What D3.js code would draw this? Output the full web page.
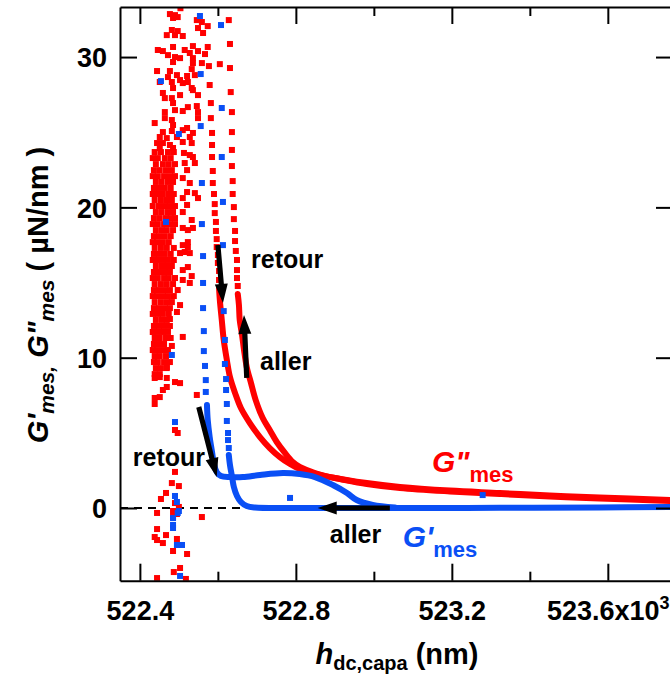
<!DOCTYPE html>
<html><head><meta charset="utf-8">
<script src="https://cdn.jsdelivr.net/npm/d3@7"></script>
<style>
body{margin:0;background:#fff;}
text{font-family:"Liberation Sans",Arial,sans-serif;font-weight:bold;}
</style></head>
<body><svg id="c" width="670" height="679"></svg>
<script>
// ---------- axes data ----------
const xTicksMajor = [522400, 522800, 523200, 523600];
const xTicksMinor = [522600, 523000, 523400];
const xTickLabels = ["522.4", "522.8", "523.2", "523.6x10"];
const yTicks = [0, 10, 20, 30];
const yTickLabels = ["0", "10", "20", "30"];

// ---------- G'' (red) ----------
const redRetourDots = [[522574,32.06],[522574,30.67],[522577,29.4],[522579,28.14],[522582,26.94],[522582,25.94],[522585,24.95],[522585,24.15],[522585,23.35],[522587,22.42],[522587,21.62],[522590,20.89],[522592,20.22],[522592,19.62],[522595,19.03],[522595,18.43],[522597,17.89],[522597,17.36],[522600,16.83],[522600,16.3],[522603,15.77],[522603,15.17]];
const redRetourLine = [[522603,14.63],[522605,13.84],[522610,12.51],[522615,11.18],[522623,9.85],[522631,8.71],[522644,7.65],[522659,6.65],[522682,5.65],[522708,4.72],[522733,3.99],[522759,3.39],[522785,2.93],[522810,2.59],[522862,2.2],[522913,1.93],[522982,1.6],[523067,1.33],[523195,1.1],[523323,0.93],[523451,0.77],[523579,0.63],[523759,0.47]];
const redAllerDots = [[522628,32.46],[522631,30.87],[522631,29.27],[522633,27.67],[522636,26.34],[522636,25.01],[522636,23.82],[522636,22.75],[522638,21.75],[522638,20.89],[522641,20.02],[522641,19.22],[522644,18.43],[522644,17.76],[522646,17.1],[522649,16.5],[522649,15.83],[522649,15.3],[522651,14.77]];
const redAllerLine = [[522651,14.24],[522654,13.5],[522656,12.51],[522662,11.51],[522667,10.51],[522674,9.38],[522685,8.31],[522697,7.18],[522715,5.99],[522733,5.19],[522751,4.39],[522772,3.66],[522792,3.06],[522810,2.73],[522849,2.33],[522900,2.0],[522982,1.66],[523067,1.4],[523195,1.16],[523323,1.0],[523451,0.83],[523579,0.7],[523759,0.53]];
const redScatter = [[522504,33.25],[522477,32.86],[522490,32.79],[522497,32.66],[522485,32.6],[522546,32.46],[522559,32.33],[522549,31.93],[522482,31.8],[522497,31.73],[522562,31.6],[522469,31.46],[522490,31.46],[522510,31.4],[522485,30.67],[522536,30.73],[522446,30.47],[522459,30.4],[522515,30.47],[522549,30.4],[522472,30.13],[522490,30.0],[522528,30.27],[522567,30.2],[522503,29.93],[522536,29.93],[522485,29.67],[522559,29.6],[522605,29.53],[522536,29.6],[522444,29.07],[522477,29.07],[522533,29.2],[522495,28.8],[522521,28.74],[522541,28.8],[522472,28.67],[522451,28.34],[522482,28.34],[522503,28.47],[522510,28.27],[522523,28.34],[522485,27.94],[522533,27.94],[522459,27.61],[522536,27.8],[522549,27.47],[522503,27.47],[522482,27.27],[522464,27.27],[522485,26.94],[522523,26.67],[522546,26.74],[522490,26.47],[522464,26.34],[522510,26.41],[522549,26.34],[522464,25.94],[522482,25.81],[522549,25.94],[522438,25.61],[522485,25.48],[522521,25.28],[522459,25.01],[522482,25.08],[522510,25.14],[522536,24.95],[522451,24.68],[522469,24.61],[522495,24.68],[522528,24.68],[522444,24.28],[522459,24.28],[522477,24.15],[522510,24.35],[522533,24.28],[522451,23.95],[522485,23.95],
[522513,23.62],[522528,23.48],[522536,23.35],[522515,22.95],[522541,22.95],[522521,22.48],[522510,21.95],[522528,21.62],[522521,21.02],[522541,20.95],[522549,20.62],[522510,20.62],[522521,20.16],[522510,19.69],[522533,19.16],[522490,19.29],[522510,18.63],[522523,18.49],[522536,18.63],[522523,17.69],[522510,17.49],[522523,17.36],[522503,16.96],[522515,17.03],[522528,16.96],[522523,16.03],[522510,15.83],[522533,15.43],[522510,15.17],[522528,14.97],[522497,14.5],[522503,13.5],
[522495,13.04],[522477,12.57],[522510,11.38],[522482,10.78],[522469,9.38],[522438,8.65],[522451,8.71],[522469,8.65],[522490,8.38],[522503,8.31],[522459,7.85],[522469,8.05],[522438,7.32],[522451,7.38],[522438,6.92],[522546,7.52],[522490,5.19],[522497,4.99],
[522490,2.4],[522482,1.66],[522500,1.46],[522467,1.0],[522454,0.6],[522490,0.33],[522500,0.07],[522485,-0.2],[522444,-0.33],[522495,-0.4],[522485,-0.6],[522559,-0.6],[522444,-1.4],[522438,-1.93],[522467,-1.8],[522444,-2.13],[522495,-2.06],[522459,-2.33],[522485,-2.86],[522521,-3.06],[522503,-3.99],[522487,-4.26],[522444,-4.66],[522518,-4.72]];
const redDenseRows = [
[23.68,[522438,522454,522472,522487]],[23.28,[522433,522446,522464,522479]],[22.88,[522441,522459,522474,522490]],
[22.48,[522436,522451,522467,522482]],[22.08,[522433,522446,522462,522477,522490]],[21.69,[522441,522456,522472,522485]],
[21.29,[522436,522449,522464,522479]],[20.89,[522433,522444,522459,522474,522487]],[20.49,[522438,522454,522469,522482]],
[20.09,[522433,522449,522464,522477,522490]],[19.69,[522441,522456,522472,522485]],[19.29,[522436,522451,522467,522479]],
[18.89,[522433,522446,522462,522477,522490]],[18.49,[522441,522456,522469,522485]],[18.09,[522436,522449,522464,522479]],
[17.69,[522433,522444,522459,522474]],[17.3,[522438,522454,522469,522487]],[16.9,[522436,522449,522464,522479]],
[16.5,[522433,522444,522459,522472,522487]],[16.1,[522441,522456,522469,522482]],[15.7,[522436,522449,522464,522477]],
[15.3,[522433,522446,522462,522474,522490]],[14.9,[522438,522454,522469,522485]],[14.5,[522436,522449,522464,522477]],
[14.1,[522433,522444,522459,522472,522487]],[13.7,[522438,522454,522469,522482]],[13.3,[522436,522449,522464,522477]],
[12.91,[522433,522446,522459,522474]],[12.51,[522441,522456,522469]],[12.11,[522436,522449,522462,522477]],
[11.71,[522433,522444,522459,522472]],[11.31,[522438,522451,522467,522479]],[10.91,[522436,522449,522462]],
[10.51,[522433,522444,522459,522472]],[10.11,[522438,522451,522467]],[9.71,[522436,522446,522462,522477]],
[9.31,[522441,522454,522469]],[8.91,[522438,522451]]];

// ---------- G' (blue) ----------
const blueRetourDots = [[522554,32.73],[522556,28.87],[522556,25.41],[522559,21.62],[522559,18.89],[522562,16.76],[522562,14.97],[522562,13.3],[522564,11.77],[522564,10.44],[522567,9.45],[522569,8.51],[522569,7.72]];
const blueRetourLine = [[522572,6.85],[522574,5.85],[522579,4.72],[522585,3.73],[522590,2.93],[522597,2.39],[522608,2.13],[522631,2.06],[522664,2.06],[522708,2.2],[522767,2.33],[522810,2.26],[522849,2.06],[522895,1.53],[522931,1.0],[522956,0.53],[522997,0.2],[523054,0.03]];
const blueAllerDots = [[522608,32.13],[522610,26.61],[522610,23.35],[522613,20.36],[522613,17.49],[522615,13.1],[522618,11.18],[522618,9.58],[522621,8.58],[522621,7.85],[522623,6.92],[522623,5.79],[522626,4.99],[522626,4.52],[522628,3.99]];
const blueAllerLine = [[522628,3.53],[522631,2.86],[522636,2.13],[522641,1.4],[522649,0.8],[522659,0.4],[522674,0.13],[522695,0.03],[522810,0.0],[523067,0.0],[523323,0.01],[523579,0.03],[523759,0.07]];
const blueScatter = [[522454,28.4],[522500,24.88],[522467,19.03],[522482,10.18],[522490,5.72],[522490,0.8],[522495,0.4],[522500,-0.2],[522497,-0.33],[522485,-0.67],[522485,-1.13],[522485,-1.33],[522495,-2.46],[522508,-2.46],[522503,-4.52],[522785,0.67],[523279,0.86]];

// ---------- annotations (data coords) ----------
const arrows = [
  {from:[522600,17.5], to:[522613,13.64]},
  {from:[522674,8.65], to:[522667,12.84]},
  {from:[522551,6.72], to:[522597,2.06]},
  {from:[523041,0.0],  to:[522856,0.0]}
];
const labels = [
  {text:"retour", at:[522685,15.97]},
  {text:"aller",  at:[522708,9.18]},
  {text:"retour", at:[522382,2.79]},
  {text:"aller",  at:[522887,-2.33]}
];

const RED = "#ff0000", BLUE = "#0a4ff5";
const svg = d3.select("#c");
const x = d3.scaleLinear().domain([522349, 523762]).range([120, 671]);
const y = d3.scaleLinear().domain([-4.836, 33.33]).range([580.7, 7]);

svg.append("defs").append("clipPath").attr("id","pc")
  .append("rect").attr("x",120).attr("y",7).attr("width",551).attr("height",573.7);

const plot = svg.append("g").attr("clip-path","url(#pc)");

plot.append("line").attr("x1",x.range()[0]).attr("x2",x.range()[1])
  .attr("y1",y(0)).attr("y2",y(0)).attr("stroke","#000").attr("stroke-width",1.8)
  .attr("stroke-dasharray","8,6");

const line = d3.line().x(d=>x(d[0])).y(d=>y(d[1])).curve(d3.curveCatmullRom.alpha(0.5));
const S = 6;
function dots(data, color){
  plot.append("g").selectAll("rect").data(data).join("rect")
    .attr("x",d=>x(d[0])-S/2).attr("y",d=>y(d[1])-S/2)
    .attr("width",S).attr("height",S).attr("fill",color);
}
function thick(data, color){
  plot.append("path").datum(data).attr("d",line).attr("fill","none")
    .attr("stroke",color).attr("stroke-width",6).attr("stroke-linecap","round").attr("stroke-linejoin","round");
}
const dense = redDenseRows.flatMap(r => r[1].map(v => [v, r[0]]));
dots(dense, RED);
dots(redScatter, RED);
dots(redRetourDots, RED);
dots(redAllerDots, RED);
thick(redRetourLine, RED);
thick(redAllerLine, RED);
dots(blueRetourDots, BLUE);
dots(blueAllerDots, BLUE);
thick(blueRetourLine, BLUE);
thick(blueAllerLine, BLUE);
dots(blueScatter, BLUE);

arrows.forEach(a=>{
  const x0=x(a.from[0]), y0=y(a.from[1]), x1=x(a.to[0]), y1=y(a.to[1]);
  const dx=x1-x0, dy=y1-y0, L=Math.hypot(dx,dy), ux=dx/L, uy=dy/L, px=-uy, py=ux;
  const hl=19, hw=6.5, sw=2.6;
  const bx=x1-ux*hl, by=y1-uy*hl;
  const pts=[[x0+px*sw,y0+py*sw],[bx+px*sw,by+py*sw],[bx+px*hw,by+py*hw],[x1,y1],[bx-px*hw,by-py*hw],[bx-px*sw,by-py*sw],[x0-px*sw,y0-py*sw]];
  svg.append("polygon").attr("points",pts.map(p=>p.join(",")).join(" ")).attr("fill","#000");
});
labels.forEach(l=>{
  svg.append("text").attr("x",x(l.at[0])).attr("y",y(l.at[1])).attr("font-size",25).attr("fill","#000").text(l.text);
});

const g2 = svg.append("text").attr("x",x(523149)).attr("y",y(2.4)).attr("fill",RED);
g2.append("tspan").attr("font-size",30).attr("font-style","italic").text('G"');
g2.append("tspan").attr("font-size",22).attr("dy",10).text("mes");
const g1 = svg.append("text").attr("x",x(523074)).attr("y",y(-2.6)).attr("fill",BLUE);
g1.append("tspan").attr("font-size",30).attr("font-style","italic").text("G'");
g1.append("tspan").attr("font-size",22).attr("dy",10).text("mes");

function styleAxis(g){ g.selectAll("path,line").attr("stroke","#000").attr("stroke-width",2); g.selectAll("text").attr("fill","#000").attr("font-size",27).attr("font-family","Liberation Sans, Arial, sans-serif").attr("font-weight","bold"); }
const axB = svg.append("g").attr("transform",`translate(0,${y.range()[0]})`)
  .call(d3.axisBottom(x).tickValues(xTicksMajor).tickSizeInner(-17).tickSizeOuter(0).tickPadding(20)
    .tickFormat((d,i)=>xTickLabels[i]));
styleAxis(axB);
axB.selectAll("text").filter((d,i)=>i===xTicksMajor.length-1).each(function(){
  d3.select(this).append("tspan").attr("dy",-11).attr("font-size",18).text("3");
});
const axBm = svg.append("g").attr("transform",`translate(0,${y.range()[0]})`)
  .call(d3.axisBottom(x).tickValues(xTicksMinor).tickSizeInner(-9).tickSizeOuter(0).tickFormat(""));
styleAxis(axBm); axBm.select(".domain").remove();
const axT = svg.append("g").attr("transform",`translate(0,${y.range()[1]})`)
  .call(d3.axisTop(x).tickValues(xTicksMajor).tickSizeInner(-17).tickSizeOuter(0).tickFormat(""));
styleAxis(axT);
const axTm = svg.append("g").attr("transform",`translate(0,${y.range()[1]})`)
  .call(d3.axisTop(x).tickValues(xTicksMinor).tickSizeInner(-9).tickSizeOuter(0).tickFormat(""));
styleAxis(axTm); axTm.select(".domain").remove();
const axL = svg.append("g").attr("transform",`translate(${x.range()[0]},0)`)
  .call(d3.axisLeft(y).tickValues(yTicks).tickSizeInner(-17).tickSizeOuter(0).tickPadding(13)
    .tickFormat((d,i)=>yTickLabels[i]));
styleAxis(axL);
axL.selectAll("text").attr("dy","0.36em");
const axR = svg.append("g").attr("transform",`translate(${x.range()[1]},0)`)
  .call(d3.axisRight(y).tickValues(yTicks).tickSizeInner(-15).tickSizeOuter(0).tickFormat(""));
styleAxis(axR);

const xt = svg.append("text").attr("x",397).attr("y",664).attr("text-anchor","middle").attr("fill","#000").attr("font-size",29);
xt.append("tspan").attr("font-style","italic").text("h");
xt.append("tspan").attr("font-size",20).attr("dy",6).text("dc,capa");
xt.append("tspan").attr("dy",-6).text(" (nm)");

const yt = svg.append("text").attr("transform","translate(48,295) rotate(-90)").attr("text-anchor","middle").attr("fill","#000").attr("font-size",29);
yt.append("tspan").attr("font-style","italic").text("G'");
yt.append("tspan").attr("font-style","italic").attr("font-size",21).attr("dy",6).text("mes,");
yt.append("tspan").attr("font-style","italic").attr("dy",-6).text(' G"');
yt.append("tspan").attr("font-style","italic").attr("font-size",21).attr("dy",6).text("mes");
yt.append("tspan").attr("dy",-6).text(" ( µN/nm )");
</script></body></html>
